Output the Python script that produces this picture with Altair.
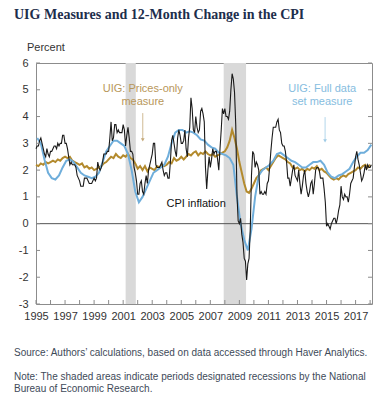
import altair as alt
import pandas as pd

# ---------------- data ----------------
# 12-month change in CPI, monthly, Jan 1995 .. Feb 2018
cpi = [
    2.8, 2.9, 2.9, 3.1, 3.2, 3.0, 2.8, 2.6, 2.5, 2.8, 2.6, 2.5,   # 1995
    2.7, 2.7, 2.8, 2.9, 2.9, 2.8, 3.0, 2.9, 3.0, 3.0, 3.3, 3.3,   # 1996
    3.0, 3.0, 2.8, 2.5, 2.2, 2.3, 2.2, 2.2, 2.2, 2.1, 1.8, 1.7,   # 1997
    1.6, 1.4, 1.4, 1.4, 1.7, 1.7, 1.7, 1.6, 1.5, 1.5, 1.5, 1.6,   # 1998
    1.7, 1.6, 1.7, 2.3, 2.1, 2.0, 2.1, 2.3, 2.6, 2.6, 2.6, 2.7,   # 1999
    2.7, 3.2, 3.8, 3.1, 3.2, 3.7, 3.7, 3.4, 3.5, 3.4, 3.4, 3.4,   # 2000
    3.7, 3.5, 2.9, 3.3, 3.6, 3.2, 2.7, 2.7, 2.6, 2.1, 1.9, 1.6,   # 2001
    1.1, 1.1, 1.5, 1.6, 1.2, 1.1, 1.5, 1.8, 1.5, 2.0, 2.2, 2.4,   # 2002
    2.6, 3.0, 3.0, 2.2, 2.1, 2.1, 2.1, 2.2, 2.3, 2.0, 1.8, 1.9,   # 2003
    1.9, 1.7, 1.7, 2.3, 3.1, 3.3, 3.0, 2.7, 2.5, 3.2, 3.5, 3.3,   # 2004
    3.0, 3.0, 3.1, 3.5, 2.8, 2.5, 3.2, 3.6, 4.7, 4.3, 3.5, 3.4,   # 2005
    4.0, 3.6, 3.4, 3.5, 4.2, 4.3, 4.1, 3.8, 2.1, 1.3, 2.0, 2.5,   # 2006
    2.1, 2.4, 2.8, 2.6, 2.7, 2.7, 2.4, 2.0, 2.8, 3.5, 4.3, 4.1,   # 2007
    4.3, 4.0, 4.0, 3.9, 4.2, 5.0, 5.6, 5.4, 4.9, 3.7, 1.1, 0.1,   # 2008
    0.0, 0.2, -0.4, -0.7, -1.3, -1.4, -2.1, -1.5, -1.3, -0.2, 1.8, 2.7,  # 2009
    2.6, 2.1, 2.3, 2.2, 2.0, 1.1, 1.2, 1.1, 1.1, 1.2, 1.1, 1.5,   # 2010
    1.6, 2.1, 2.7, 3.2, 3.6, 3.6, 3.6, 3.8, 3.9, 3.5, 3.4, 3.0,   # 2011
    2.9, 2.9, 2.7, 2.3, 1.7, 1.7, 1.4, 1.7, 2.0, 2.2, 1.8, 1.7,   # 2012
    1.6, 2.0, 1.5, 1.1, 1.4, 1.8, 2.0, 1.5, 1.2, 1.0, 1.2, 1.5,   # 2013
    1.6, 1.1, 1.5, 2.0, 2.1, 2.1, 2.0, 1.7, 1.7, 1.7, 1.3, 0.8,   # 2014
    -0.1, 0.0, -0.1, -0.2, 0.0, 0.1, 0.2, 0.2, 0.0, 0.2, 0.5, 0.7,  # 2015
    1.4, 1.0, 0.9, 1.1, 1.0, 1.0, 0.8, 1.1, 1.5, 1.6, 1.7, 2.1,   # 2016
    2.5, 2.7, 2.4, 2.2, 1.9, 1.6, 1.7, 1.9, 2.2, 2.0, 2.2, 2.1,   # 2017
    2.1, 2.2,                                                     # 2018
]

# UIG full data set measure, quarterly, 1995Q1 .. 2018Q1
uig_full = [
    3.2, 3.0, 2.4, 1.9,     # 1995
    1.7, 1.65, 1.8, 2.1,    # 1996
    2.35, 2.4, 2.3, 2.1,    # 1997
    1.9, 1.8, 1.75, 1.7,    # 1998
    1.75, 1.9, 2.3, 2.7,    # 1999
    2.9, 3.1, 3.1, 3.0,     # 2000
    2.9, 2.6, 2.0, 1.2,     # 2001
    0.8, 1.0, 1.3, 1.6,     # 2002
    1.9, 2.0, 2.1, 2.2,     # 2003
    2.5, 3.0, 3.4, 3.5,     # 2004
    3.5, 3.4, 3.45, 3.4,    # 2005
    3.3, 3.15, 3.1, 2.95,   # 2006
    2.85, 2.8, 2.65, 2.6,   # 2007
    2.55, 2.45, 2.2, 1.0,   # 2008
    0.0, -0.6, -1.0, -0.2,  # 2009
    1.0, 1.8, 2.0, 2.1,     # 2010
    2.2, 2.35, 2.6, 2.65,   # 2011
    2.55, 2.45, 2.35, 2.3,  # 2012
    2.2, 2.1, 2.1, 2.2,     # 2013
    2.3, 2.3, 2.35, 2.2,    # 2014
    1.9, 1.75, 1.7, 1.8,    # 2015
    1.85, 1.95, 2.05, 2.3,  # 2016
    2.5, 2.65, 2.65, 2.75,  # 2017
    2.95,                   # 2018
]

# UIG prices-only measure, every two months (Jan, Mar, May, Jul, Sep, Nov), 1995 .. Jan 2018
uig_prices = [
    2.2, 2.15, 2.25, 2.2, 2.3, 2.25,     # 1995
    2.3, 2.35, 2.3, 2.4, 2.35, 2.45,     # 1996
    2.5, 2.45, 2.5, 2.35, 2.3, 2.25,     # 1997
    2.2, 2.25, 2.1, 2.15, 2.05, 2.1,     # 1998
    2.0, 2.05, 2.1, 2.15, 2.25, 2.3,     # 1999
    2.4, 2.5, 2.45, 2.6, 2.5, 2.45,      # 2000
    2.55, 2.5, 2.6, 2.45, 2.4, 2.25,     # 2001
    2.05, 2.15, 2.0, 2.15, 1.95, 2.1,    # 2002
    2.05, 2.0, 2.15, 2.1, 2.2, 2.15,     # 2003
    2.2, 2.3, 2.25, 2.45, 2.35, 2.4,     # 2004
    2.5, 2.4, 2.5, 2.6, 2.55, 2.65,      # 2005
    2.7, 2.55, 2.65, 2.6, 2.7, 2.6,      # 2006
    2.55, 2.6, 2.5, 2.55, 2.6, 2.65,     # 2007
    2.7, 2.85, 3.1, 3.5, 3.2, 2.8,       # 2008
    2.3, 1.9, 1.5, 1.2, 1.15, 1.3,       # 2009
    1.5, 1.7, 1.8, 2.0, 2.05, 2.1,       # 2010
    2.0, 2.15, 2.3, 2.45, 2.55, 2.5,     # 2011
    2.45, 2.4, 2.3, 2.25, 2.1, 2.05,     # 2012
    2.1, 2.0, 2.05, 1.95, 2.05, 2.0,     # 2013
    2.1, 2.05, 2.15, 2.0, 2.05, 1.95,    # 2014
    1.9, 1.8, 1.7, 1.65, 1.7, 1.65,      # 2015
    1.75, 1.8, 1.75, 1.85, 1.9, 1.95,    # 2016
    2.0, 2.1, 2.05, 2.15, 2.2, 2.1,      # 2017
    2.2,                                 # 2018
]

recession_start = [2001.17, 2007.92]
recession_end = [2001.87, 2009.46]

x_tick_years = list(range(1995, 2019))
x_label_years = list(range(1995, 2018, 2))
y_tick_values = list(range(-3, 7))

# ---------------- frames ----------------
cpi_df = pd.DataFrame({"t": [1995 + i / 12 for i in range(len(cpi))], "v": cpi})
full_df = pd.DataFrame({"t": [1995 + (3 * i + 1) / 12 for i in range(len(uig_full))], "v": uig_full})
prices_df = pd.DataFrame({"t": [1995 + (2 * i) / 12 for i in range(len(uig_prices))], "v": uig_prices})
rec_df = pd.DataFrame({"s": recession_start, "e": recession_end})
xt_df = pd.DataFrame({"t": x_tick_years})
yt_df = pd.DataFrame({"v": y_tick_values})

W, H = 336, 241
BLUE = "#6faedb"
GOLD = "#b38a2d"
SANS = "Liberation Sans"

xs = alt.Scale(domain=[1995, 2018.13], nice=False, zero=False)
ys = alt.Scale(domain=[-3, 6], nice=False, zero=False)

AX_X = alt.Axis(values=x_label_years, format="d", labelPadding=6, title=None,
                labelFlush=False, labelOverlap=False)
AX_Y = alt.Axis(values=y_tick_values, labelPadding=8, labelOverlap=False, title=None,
                labelFlush=False, labelExpr="'' + datum.value")

X = alt.X("t:Q", scale=xs, axis=AX_X)
Y = alt.Y("v:Q", scale=ys, axis=AX_Y)

rec = alt.Chart(rec_df).mark_rect(color="#d9d9d9").encode(
    x=alt.X("s:Q", scale=xs, axis=AX_X), x2="e:Q")

zero = alt.Chart(yt_df).transform_filter("datum.v == 0").mark_rule(
    color="#555555", strokeWidth=1).encode(y=alt.Y("v:Q", scale=ys, axis=AX_Y))

gold_line = alt.Chart(prices_df).mark_line(color=GOLD, strokeWidth=2).encode(x=X, y=Y)
blue_line = alt.Chart(full_df).mark_line(color=BLUE, strokeWidth=2).encode(x=X, y=Y)
cpi_line = alt.Chart(cpi_df).mark_line(color="#1a1a1a", strokeWidth=1.1).encode(x=X, y=Y)

tick_col = "#8c8c8c"
bottom_ticks = alt.Chart(xt_df).mark_rule(color=tick_col).encode(
    x=alt.X("t:Q", scale=xs, axis=AX_X), y=alt.value(H), y2=alt.value(H - 4))
left_ticks = alt.Chart(yt_df).mark_rule(color=tick_col).encode(
    y=alt.Y("v:Q", scale=ys, axis=AX_Y), x=alt.value(0), x2=alt.value(4))
right_ticks = alt.Chart(yt_df).mark_rule(color=tick_col).encode(
    y=alt.Y("v:Q", scale=ys, axis=AX_Y), x=alt.value(W), x2=alt.value(W - 4))


def label(text, x, y, color, align="center", size=11):
    return alt.Chart(pd.DataFrame({"txt": [text]})).mark_text(
        font=SANS, fontSize=size, color=color, align=align, baseline="middle").encode(
        text="txt:N", x=alt.datum(x, scale=xs, axis=AX_X), y=alt.datum(y, scale=ys, axis=AX_Y))


def arrow(x, y_top, y_bot, color):
    line = alt.Chart(pd.DataFrame({"a": [0]})).mark_rule(color=color, strokeWidth=0.8).encode(
        x=alt.datum(x, scale=xs, axis=AX_X), y=alt.datum(y_top, scale=ys, axis=AX_Y),
        y2=alt.datum(y_bot + 0.1))
    head = alt.Chart(pd.DataFrame({"a": [0]})).mark_point(
        shape="triangle-down", filled=True, color=color, size=14, opacity=1).encode(
        x=alt.datum(x, scale=xs, axis=AX_X), y=alt.datum(y_bot + 0.08, scale=ys, axis=AX_Y))
    return [line, head]


GOLD_TXT = "#b8975a"
BLUE_TXT = "#86bde0"
annos = [
    label("UIG: Prices-only", 2002.35, 5.03, GOLD_TXT),
    label("measure", 2002.35, 4.54, GOLD_TXT),
    *arrow(2002.35, 4.13, 3.05, "#c4a878"),
    label("UIG: Full data", 2014.7, 5.03, BLUE_TXT),
    label("set measure", 2014.7, 4.54, BLUE_TXT),
    *arrow(2014.9, 3.98, 3.01, "#9fcbe6"),
    label("CPI inflation", 2003.98, 0.74, "#111111", align="left"),
]


def free_text(text, x, y, size, color, font=SANS, weight="normal"):
    return alt.Chart(pd.DataFrame({"txt": [text]})).mark_text(
        font=font, fontSize=size, color=color, fontWeight=weight,
        align="left", baseline="middle").encode(
        text="txt:N", x=alt.value(x), y=alt.value(y))


FOOT = "#3e4a59"
texts = [
    free_text("UIG Measures and 12-Month Change in the CPI", -22, -48, 14, "#1d2e4c",
              font="Liberation Serif", weight="bold"),
    free_text("Percent", -9, -15, 11, "#333333"),
    free_text("Source: Authors\u2019 calculations, based on data accessed through Haver Analytics.",
              -22, 290, 10, FOOT),
    free_text("Note: The shaded areas indicate periods designated recessions by the National",
              -22, 314, 10, FOOT),
    free_text("Bureau of Economic Research.", -22, 326, 10, FOOT),
]

chart = alt.layer(
    rec, zero, gold_line, blue_line, cpi_line,
    bottom_ticks, left_ticks, right_ticks, *annos, *texts
).properties(
    width=W, height=H,
    padding={"left": 28, "top": 55, "right": 10, "bottom": 93},
    autosize=alt.AutoSizeParams(type="none"),
).configure_view(
    stroke="#8c8c8c", strokeWidth=1
).configure_axis(
    grid=False, domain=False, ticks=False, labelOverlap=False,
    labelFont=SANS, labelFontSize=11, labelColor="#333333",
)

chart.save("out.html", embed_options={"renderer": "svg", "actions": False})
